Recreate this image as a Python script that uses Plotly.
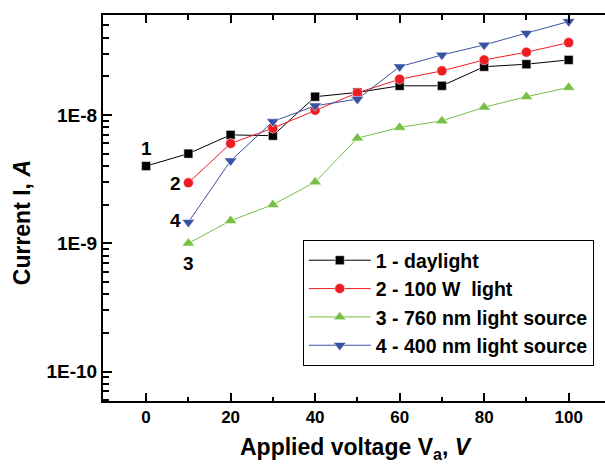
import plotly.graph_objects as go

voltage = [0, 10, 20, 30, 40, 50, 60, 70, 80, 90, 100]
voltage_lit = [10, 20, 30, 40, 50, 60, 70, 80, 90, 100]

daylight = [4.0e-9, 5.0e-9, 7.0e-9, 6.9e-9, 1.39e-8, 1.5e-8, 1.69e-8, 1.69e-8, 2.38e-8, 2.49e-8, 2.69e-8]
light_100w = [2.96e-9, 6.0e-9, 7.9e-9, 1.09e-8, 1.49e-8, 1.9e-8, 2.21e-8, 2.69e-8, 3.09e-8, 3.67e-8]
source_760 = [1.0e-9, 1.5e-9, 2.0e-9, 3.0e-9, 6.6e-9, 8.0e-9, 9.0e-9, 1.15e-8, 1.39e-8, 1.64e-8]
source_400 = [1.46e-9, 4.4e-9, 8.9e-9, 1.18e-8, 1.33e-8, 2.38e-8, 2.94e-8, 3.52e-8, 4.35e-8, 5.36e-8]

names = ["1 - daylight", "2 - 100 W  light", "3 - 760 nm light source", "4 - 400 nm light source"]
colors = ["#000000", "#EE1D23", "#77C045", "#3A52A3"]
symbols = ["square", "circle", "triangle-up", "triangle-down"]
sizes = [9, 10, 11, 11]

ytickvals = [1e-10, 1e-9, 1e-8]
yticktext = ["1E-10", "1E-9", "1E-8"]

FONT = "Liberation Sans, Arial, sans-serif"

fig = go.Figure()
series = [(voltage, daylight), (voltage_lit, light_100w), (voltage_lit, source_760), (voltage_lit, source_400)]
for (xs, ys), n, c, s, sz in zip(series, names, colors, symbols, sizes):
    fig.add_trace(go.Scatter(
        x=xs, y=ys, name=n, mode="lines+markers",
        line=dict(color=c, width=1),
        marker=dict(symbol=s, size=sz, color=c, line=dict(color="white", width=0.5)),
    ))

minor_y = [k * 10 ** e for e in (-11, -10, -9, -8) for k in range(2, 10)]

fig.update_layout(
    width=605, height=465,
    margin=dict(l=103, r=0, t=15, b=64),
    plot_bgcolor="white", paper_bgcolor="white",
    font=dict(family=FONT, color="black"),
    showlegend=True,
    legend=dict(
        x=0.398, y=0.417, xanchor="left", yanchor="top",
        bordercolor="black", borderwidth=1, bgcolor="white",
        font=dict(family=FONT, size=19.5, color="black", weight="bold"),
        tracegroupgap=0, itemwidth=62,
    ),
    xaxis=dict(
        range=[-10.2, 108.6], tickmode="array", tickvals=[0, 20, 40, 60, 80, 100],
        ticks="inside", ticklen=8, tickwidth=1.5, tickcolor="black",
        showline=True, linecolor="black", linewidth=2, mirror="ticks",
        showgrid=False, zeroline=False,
        tickfont=dict(family=FONT, size=17, color="black", weight="bold"),
        minor=dict(tickvals=[10, 30, 50, 70, 90], ticks="inside", ticklen=4.5, tickwidth=1.5, tickcolor="black", showgrid=False),
    ),
    yaxis=dict(
        type="log", range=[-10.23, -7.22],
        tickmode="array", tickvals=ytickvals, ticktext=yticktext,
        ticks="inside", ticklen=9, tickwidth=1.5, tickcolor="black",
        showline=True, linecolor="black", linewidth=2,
        showgrid=False, zeroline=False,
        tickfont=dict(family=FONT, size=19, color="black", weight="bold"),
        minor=dict(tickvals=minor_y, ticks="inside", ticklen=5.5, tickwidth=1.5, tickcolor="black", showgrid=False),
    ),
)

fig.add_annotation(xref="paper", yref="paper", x=0.504, y=-0.124, showarrow=False,
                   text="Applied voltage V<sub>a</sub>, <i>V</i>", xanchor="center", yanchor="middle",
                   font=dict(family=FONT, size=23, color="black", weight="bold"))
fig.add_annotation(xref="paper", yref="paper", x=-0.161, y=0.461, showarrow=False, textangle=-90,
                   text="Current I, <i>A</i>", xanchor="center", yanchor="middle",
                   font=dict(family=FONT, size=23, color="black", weight="bold"))

curve_labels = [("1", 0, -8.258), ("2", 7, -8.531), ("4", 7, -8.82), ("3", 10, -9.156)]
for t, lx, ly in curve_labels:
    fig.add_annotation(x=lx, y=ly, xref="x", yref="y", text=t, showarrow=False,
                       font=dict(family=FONT, size=19, color="black", weight="bold"))

fig.write_html("out.html")
